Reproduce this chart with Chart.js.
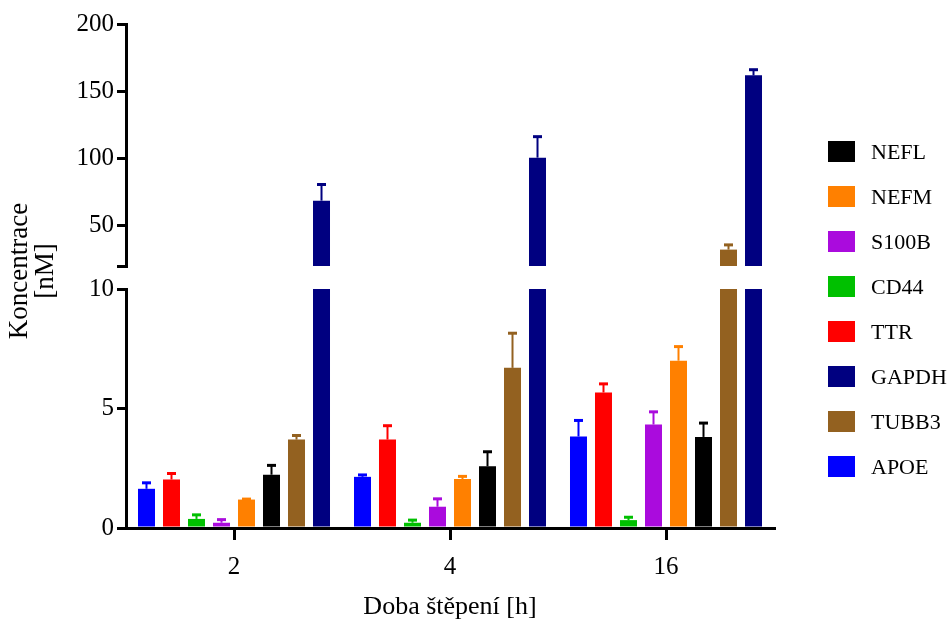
<!DOCTYPE html>
<html>
<head>
<meta charset="utf-8">
<script src="https://cdn.jsdelivr.net/npm/chart.js@4.4.1/dist/chart.umd.min.js"></script>
<style>
    body { margin: 0; background: #fff; }
    #wrap { position: relative; width: 952px; height: 626px; font-family: "Liberation Serif", serif; }
    .pane { position: absolute; left: 0; width: 952px; }
    #topPane { top: 0; height: 292px; }
    #bottomPane { top: 270px; height: 356px; }
    #yTitle {
        position: absolute; left: -65px; top: 241px; width: 200px; height: 60px;
        transform: rotate(-90deg); text-align: center;
        font-size: 27px; line-height: 26px; color: #000;
    }
    .lg-item { position: absolute; left: 828px; height: 21px; }
    .lg-box { position: absolute; left: 0; top: 0; width: 27px; height: 21px; }
    .lg-text { position: absolute; left: 43px; top: -5px; font-size: 22px; line-height: 31px; color: #000; white-space: nowrap; }
</style>
</head>
<body>
<div id="wrap">
    <div class="pane" id="bottomPane"><canvas id="bottomChart"></canvas></div>
    <div class="pane" id="topPane"><canvas id="topChart"></canvas></div>
    <div id="yTitle">Koncentrace<br>[nM]</div>
    <div id="legend"></div>
</div>
<script>
(function () {
    "use strict";

    // digestion times (h)
    const categories = ["2", "4", "16"];

    // mean concentration [nM] and error per marker
    const apoe    = [1.64, 2.14, 3.83];   const apoeErr  = [0.25, 0.08, 0.67];
    const ttr     = [2.03, 3.70, 5.67];   const ttrErr   = [0.25, 0.58, 0.36];
    const cd44    = [0.38, 0.22, 0.33];   const cd44Err  = [0.17, 0.11, 0.12];
    const s100b   = [0.22, 0.89, 4.33];   const s100bErr = [0.13, 0.33, 0.53];
    const nefm    = [1.19, 2.05, 7.00];   const nefmErr  = [0.02, 0.11, 0.59];
    const nefl    = [2.23, 2.58, 3.81];   const neflErr  = [0.39, 0.61, 0.58];
    const tubb3   = [3.70, 6.70, 32.2];   const tubb3Err = [0.17, 1.45, 3.5];
    const gapdh   = [68.6, 100.6, 161.8]; const gapdhErr = [12, 15.6, 4.2];

    // broken value axis: lower and upper segments
    const lowerTicks = [0, 5, 10];
    const upperTicks = [20, 50, 100, 150, 200];

    const legendOrder = ["NEFL", "NEFM", "S100B", "CD44", "TTR", "GAPDH", "TUBB3", "APOE"];

    const series = [
        { label: "APOE",  values: apoe,  errors: apoeErr,  color: "#0000FF" },
        { label: "TTR",   values: ttr,   errors: ttrErr,   color: "#FF0000" },
        { label: "CD44",  values: cd44,  errors: cd44Err,  color: "#00C000" },
        { label: "S100B", values: s100b, errors: s100bErr, color: "#AA0BDD" },
        { label: "NEFM",  values: nefm,  errors: nefmErr,  color: "#FF8000" },
        { label: "NEFL",  values: nefl,  errors: neflErr,  color: "#000000" },
        { label: "TUBB3", values: tubb3, errors: tubb3Err, color: "#936120" },
        { label: "GAPDH", values: gapdh, errors: gapdhErr, color: "#000080" }
    ];

    const FONT = "'Liberation Serif', serif";
    Chart.defaults.font.family = FONT;
    Chart.defaults.color = "#000";

    // upward-only error bars, drawn only where the bar ends inside this segment
    const errorBars = {
        id: "errorBars",
        afterDatasetsDraw(chart) {
            const ctx = chart.ctx;
            const yScale = chart.scales.y;
            chart.data.datasets.forEach((ds, i) => {
                const meta = chart.getDatasetMeta(i);
                meta.data.forEach((bar, j) => {
                    const v = ds.values[j];
                    const e = ds.errors[j];
                    if (v < yScale.min || v > yScale.max) return;
                    const yTop = yScale.getPixelForValue(v + e);
                    ctx.save();
                    ctx.strokeStyle = ds.backgroundColor;
                    ctx.lineWidth = 2;
                    ctx.beginPath();
                    ctx.moveTo(bar.x, bar.y);
                    ctx.lineTo(bar.x, yTop);
                    ctx.stroke();
                    ctx.lineWidth = 3;
                    ctx.beginPath();
                    ctx.moveTo(bar.x - 4.5, yTop);
                    ctx.lineTo(bar.x + 4.5, yTop);
                    ctx.stroke();
                    ctx.restore();
                });
            });
        }
    };

    function makeDatasets(mapFn) {
        return series.map(s => ({
            label: s.label,
            data: s.values.map(mapFn),
            values: s.values,
            errors: s.errors,
            backgroundColor: s.color,
            borderWidth: 0,
            categoryPercentage: 0.926,
            barPercentage: 0.68
        }));
    }

    function yAxis(min, max, tickValues) {
        return {
            min, max,
            afterFit: s => { s.width = 126; },
            afterBuildTicks: s => { s.ticks = tickValues.map(v => ({ value: v })); },
            border: { display: true, color: "#000", width: 3 },
            grid: { drawOnChartArea: false, drawTicks: true, tickLength: 9, color: "#000", lineWidth: 3 },
            ticks: {
                padding: 3,
                font: { size: 25 },
                color: "#000",
                callback: v => (v === 20 ? "" : v)
            }
        };
    }

    const baseOptions = {
        responsive: true,
        maintainAspectRatio: false,
        animation: false,
        plugins: { legend: { display: false }, tooltip: { enabled: false } }
    };

    // upper segment 20-200
    new Chart(document.getElementById("topChart"), {
        type: "bar",
        data: { labels: categories, datasets: makeDatasets(v => (v > 20 ? v : null)) },
        options: {
            ...baseOptions,
            layout: { padding: { top: 24, bottom: 26, left: 0, right: 178 } },
            scales: {
                x: { display: false },
                y: yAxis(20, 200, upperTicks)
            }
        },
        plugins: [errorBars]
    });

    // lower segment 0-10 with time axis
    new Chart(document.getElementById("bottomChart"), {
        type: "bar",
        data: { labels: categories, datasets: makeDatasets(v => Math.min(v, 10)) },
        options: {
            ...baseOptions,
            layout: { padding: { top: 19, bottom: 0, left: 0, right: 178 } },
            scales: {
                x: {
                    afterFit: s => { s.height = 98; },
                    border: { display: true, color: "#000", width: 3 },
                    grid: { drawOnChartArea: false, offset: false, drawTicks: true, tickLength: 12, color: "#000", lineWidth: 3 },
                    ticks: { padding: 12, font: { size: 25 }, color: "#000" },
                    title: {
                        display: true,
                        text: "Doba štěpení [h]",
                        font: { size: 26 },
                        color: "#000",
                        padding: { top: 4, bottom: 3 }
                    }
                },
                y: yAxis(0, 10, lowerTicks)
            }
        },
        plugins: [errorBars]
    });

    // legend
    const legendEl = document.getElementById("legend");
    legendOrder.forEach((name, k) => {
        const s = series.find(x => x.label === name);
        const item = document.createElement("div");
        item.className = "lg-item";
        item.style.top = (141 + k * 45) + "px";
        item.innerHTML = `<div class="lg-box" style="background:${s.color}"></div><div class="lg-text">${name}</div>`;
        legendEl.appendChild(item);
    });
})();
</script>
</body>
</html>
